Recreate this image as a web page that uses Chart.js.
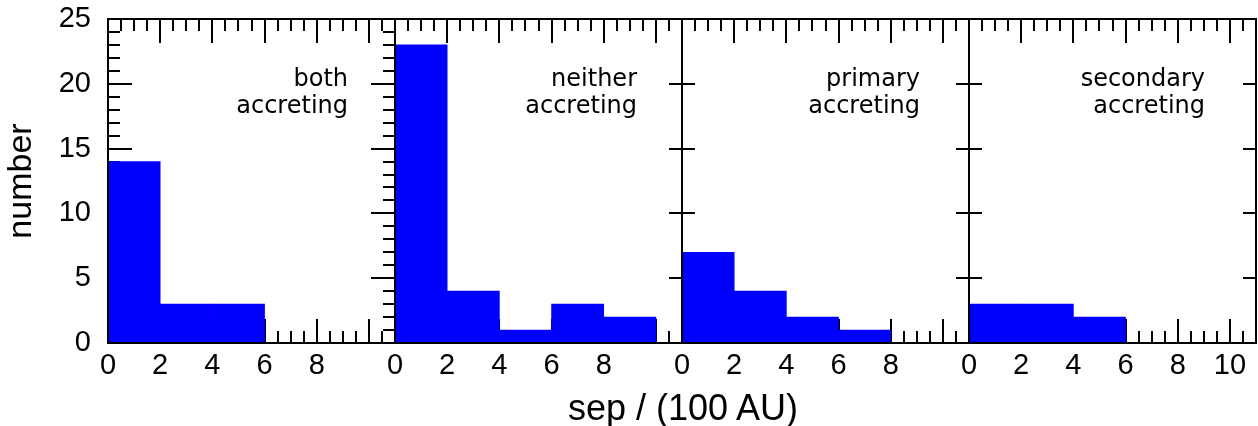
<!DOCTYPE html>
<html>
<head>
<meta charset="utf-8">
<script src="https://cdn.jsdelivr.net/npm/chart.js@4/dist/chart.umd.min.js"></script>
<style>
  html, body { margin: 0; padding: 0; background: #fff; }
  #wrap { position: relative; width: 1258px; height: 426px; overflow: hidden; }
  #wrap canvas { position: absolute; left: 0; top: 0; }
  #xtitle {
    position: absolute; left: 683px; top: 387px; transform: translateX(-50%);
    font-family: "Liberation Sans", Arial, sans-serif; font-size: 36px; color: #000;
    white-space: nowrap;
  }
</style>
</head>
<body>
<div id="wrap">
  <canvas id="p0" width="1258" height="426"></canvas>
  <canvas id="p1" width="1258" height="426"></canvas>
  <canvas id="p2" width="1258" height="426"></canvas>
  <canvas id="p3" width="1258" height="426"></canvas>
  <div id="xtitle">sep / (100 AU)</div>
</div>
<script>
// histogram bins (centres of 2-wide bins, in units of 100 AU)
const binCenters = [1, 3, 5, 7, 9];
const bothAccreting = [14, 3, 3, 0, 0];
const neitherAccreting = [23, 4, 1, 3, 2];
const primaryAccreting = [7, 4, 2, 1, 0];
const secondaryAccreting = [3, 3, 2, 0, 0];

const panelSeries = [bothAccreting, neitherAccreting, primaryAccreting, secondaryAccreting];
const panelLabels = [
  ['both', 'accreting'],
  ['neither', 'accreting'],
  ['primary', 'accreting'],
  ['secondary', 'accreting']
];
const xTickLabels = [0, 2, 4, 6, 8];
const xTickLabelsLast = [0, 2, 4, 6, 8, 10];
const yTickLabels = [0, 5, 10, 15, 20, 25];

// layout (pixels)
const panelLeft = 108, panelWidth = 287, panelTop = 19, panelBottom = 343;
const labelRight = [240, 242, 238, 236];

// inward ticks on all four sides, drawn under the bars
const ticksPlugin = {
  id: 'inTicks',
  beforeDatasetsDraw(chart, args, opts) {
    const { ctx, chartArea: a, scales: { x, y } } = chart;
    ctx.save();
    ctx.strokeStyle = '#000';
    ctx.lineWidth = 2;
    ctx.beginPath();
    for (let k = 1; k <= 21; k++) {
      const v = k * 0.5;
      const len = v % 2 === 0 ? 24 : 12;
      const px = Math.round(x.getPixelForValue(v));
      ctx.moveTo(px, a.top); ctx.lineTo(px, a.top + len);
      ctx.moveTo(px, a.bottom); ctx.lineTo(px, a.bottom - len);
    }
    for (let v = 1; v < 25; v++) {
      const major = v % 5 === 0;
      if (!major && !opts.yMinor) continue;
      const len = major ? opts.yMajor : 12;
      const py = Math.round(y.getPixelForValue(v));
      ctx.moveTo(a.left, py); ctx.lineTo(a.left + len, py);
      ctx.moveTo(a.right, py); ctx.lineTo(a.right - len, py);
    }
    ctx.stroke();
    ctx.restore();
  },
  afterDatasetsDraw(chart, args, opts) {
    const { ctx, chartArea: a } = chart;
    ctx.save();
    ctx.strokeStyle = '#000';
    ctx.lineWidth = 2;
    ctx.strokeRect(a.left, a.top, a.right - a.left, a.bottom - a.top);
    ctx.fillStyle = '#000';
    ctx.font = '24px "DejaVu Sans"';
    ctx.textAlign = 'right';
    ctx.textBaseline = 'alphabetic';
    const tx = a.left + opts.labelRight;
    ctx.fillText(opts.label[0], tx, 86);
    ctx.fillText(opts.label[1], tx, 113);
    ctx.restore();
  }
};

panelSeries.forEach((series, i) => {
  const left = panelLeft + panelWidth * i;
  const right = 1258 - (left + panelWidth);
  const labels = i === 3 ? xTickLabelsLast : xTickLabels;
  new Chart(document.getElementById('p' + i), {
    type: 'bar',
    data: {
      datasets: [{
        data: binCenters.map((c, j) => ({ x: c, y: series[j] })),
        backgroundColor: '#0000ff',
        borderWidth: 0,
        barPercentage: 1,
        categoryPercentage: 1
      }]
    },
    options: {
      responsive: false,
      animation: false,
      layout: { padding: { left: i === 0 ? 0 : left, right: right, top: panelTop, bottom: 0 } },
      plugins: {
        legend: { display: false },
        tooltip: { enabled: false },
        inTicks: { yMinor: i === 0, yMajor: i === 0 ? 24 : 13, label: panelLabels[i], labelRight: labelRight[i] }
      },
      scales: {
        x: {
          type: 'linear', min: 0, max: 11, offset: false,
          grid: { display: false, drawTicks: false, offset: false },
          border: { display: false },
          ticks: {
            stepSize: 2, includeBounds: false, autoSkip: false, maxRotation: 0, padding: 6,
            color: '#000', font: { family: 'Liberation Sans', size: 29 },
            callback: v => labels.includes(v) ? String(v) : ''
          },
          afterFit: s => {
            s.height = 426 - panelBottom;
            s.paddingLeft = 0; s.paddingRight = 0;
          }
        },
        y: {
          min: 0, max: 25,
          display: i === 0,
          grid: { display: false, drawTicks: false },
          border: { display: false },
          ticks: {
            stepSize: 5, padding: 17, color: '#000',
            font: { family: 'Liberation Sans', size: 29 },
            callback: v => yTickLabels.includes(v) ? String(v) : ''
          },
          title: {
            display: true, text: 'number', color: '#000',
            font: { family: 'Liberation Sans', size: 34 },
            padding: { top: 1, bottom: 0 }
          },
          afterFit: s => {
            s.width = i === 0 ? panelLeft : 0;
            s.paddingTop = 0; s.paddingBottom = 0;
          }
        }
      }
    },
    plugins: [ticksPlugin]
  });
});
</script>
</body>
</html>
